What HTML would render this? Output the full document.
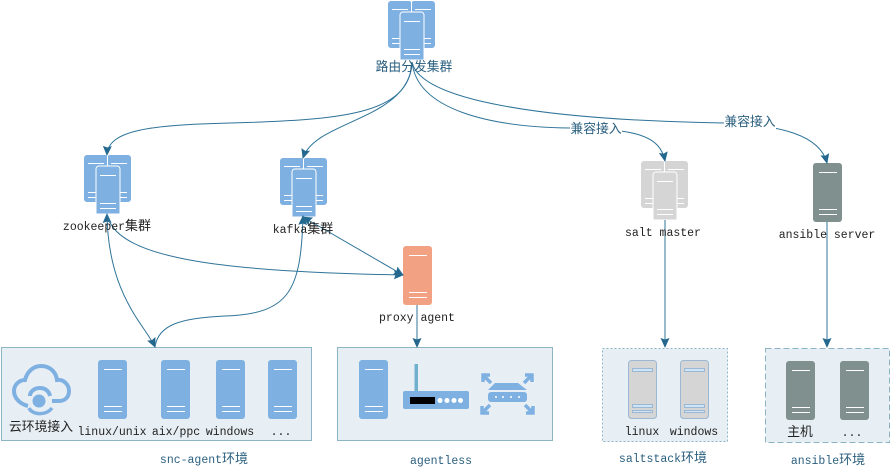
<!DOCTYPE html>
<html><head><meta charset="utf-8"><style>
html,body{margin:0;padding:0;background:#fff}
svg{display:block}
text{font-family:"Liberation Mono","Noto Sans CJK SC",monospace;font-size:11.5px;fill:#222;text-anchor:middle}
tspan{font-family:"Noto Sans CJK SC",sans-serif;font-size:13px}
.c{font-family:"Liberation Sans","Noto Sans CJK SC",sans-serif;font-size:12.800px}
.b{fill:#2a5f7f}
</style></head><body>
<svg width="891" height="470" viewBox="0 0 891 470" xmlns="http://www.w3.org/2000/svg">
<defs>
<marker id="a" markerUnits="userSpaceOnUse" markerWidth="12" markerHeight="12" refX="9" refY="4.500" orient="auto-start-reverse"><path d="M0 0L10 4.500L0 9L1.500 4.500Z" fill="#24688f"/></marker>
<g id="s"><rect x="0" y="0" width="29" height="59" rx="3"/><path d="M6 9.500H24M6 46.500H24M6 51.500H24" stroke="#fff" stroke-width="1" fill="none"/></g>
<g id="cl">
<rect x="0" y="0" width="24" height="47" rx="3"/><rect x="23" y="0" width="24" height="47" rx="3"/>
<path d="M4 8.500H20M27 8.500H43M4 37.500H12M4 42.500H12M35 37.500H43M35 42.500H43" stroke="#fff" stroke-width="1" fill="none"/>
<path d="M23.500 0V11" stroke="#fff" fill="none"/>
<path d="M12 59V14a3 3 0 0 1 3-3H33a3 3 0 0 1 3 3V59Z" stroke="#fff"/>
<path d="M16 20.500H32M16 48.500H32M16 53.500H32" stroke="#fff" stroke-width="1" fill="none"/>
</g>
</defs>

<!-- boxes -->
<rect x="1.500" y="347.500" width="310" height="93" fill="#e8eff4" stroke="#8db4c4"/>
<rect x="337.500" y="347.500" width="215" height="93" fill="#e8eff4" stroke="#8db4c4"/>
<rect x="602.500" y="348.500" width="125" height="93" fill="#e8eff4" stroke="#8db4c4" stroke-dasharray="2 2"/>
<rect x="765.500" y="348.500" width="124" height="94" fill="#e8eff4" stroke="#8db4c4" stroke-dasharray="6 3"/>

<!-- nodes -->
<use href="#cl" x="388" y="1" fill="#7fb0e2"/>
<use href="#cl" x="84" y="155" fill="#7fb0e2"/>
<use href="#cl" x="280" y="158" fill="#7fb0e2"/>
<use href="#cl" x="641" y="161" fill="#d5d5d5"/>
<use href="#s" x="813" y="163" fill="#7f908f"/>
<use href="#s" x="403" y="246" fill="#f2a283"/>

<use href="#s" x="98" y="360" fill="#7fb0e2"/>
<use href="#s" x="161" y="360" fill="#7fb0e2"/>
<use href="#s" x="216" y="360" fill="#7fb0e2"/>
<use href="#s" x="268" y="360" fill="#7fb0e2"/>
<use href="#s" x="359" y="360" fill="#7fb0e2"/>

<!-- salt hosts -->
<g fill="#d5d5d5" stroke="#9ab8d4">
<rect x="628.500" y="360.500" width="28" height="58" rx="3"/>
<rect x="680.500" y="360.500" width="28" height="58" rx="3"/>
</g>
<g fill="#cfe4f7" stroke="#9ab8d4">
<rect x="632.500" y="368.500" width="20" height="3"/><rect x="632.500" y="404.500" width="20" height="3"/><rect x="632.500" y="410.500" width="20" height="2"/>
<rect x="684.500" y="368.500" width="20" height="3"/><rect x="684.500" y="404.500" width="20" height="3"/><rect x="684.500" y="410.500" width="20" height="2"/>
</g>
<use href="#s" x="786" y="361" fill="#7f908f"/>
<use href="#s" x="840" y="361" fill="#7f908f"/>

<!-- cloud -->
<g fill="none" stroke="#7fb0e2" stroke-width="4">
<path d="M28 406C20 404 14 398 14 391C14 385 19 380 25 380C27 372 33 366 41 366C50 366 56 372 57 380C64 379 69 385 69 391C69 397 65 401 59 401H52"/>
<path d="M30 396C30 391 35 388 40 388C45 388 49 391 50 396"/>
<path d="M29 408C32 415 46 416 52 408" stroke-width="3.500"/>
</g>
<circle cx="39" cy="401" r="6.500" fill="#7fb0e2"/>

<!-- router -->
<rect x="414.500" y="364" width="3.500" height="29" fill="#6fb0cf"/>
<rect x="403" y="391" width="66" height="18" rx="2" fill="#7fb0e2"/>
<rect x="410" y="397" width="25" height="7" fill="#000"/>
<g fill="#fff"><circle cx="440" cy="400.500" r="2.500"/><circle cx="447" cy="400.500" r="2.500"/><circle cx="454" cy="400.500" r="2.500"/><circle cx="460.500" cy="400.500" r="2.500"/></g>

<!-- switch -->
<path d="M488 390L495 383H518L527 390Z" fill="#7fb0e2"/>
<rect x="488" y="392" width="39" height="10" rx="3" fill="#7fb0e2"/>
<g fill="#fff"><circle cx="496" cy="397" r="1"/><circle cx="503" cy="397" r="1"/><circle cx="511" cy="397" r="1"/><circle cx="519" cy="397" r="1"/></g>
<g stroke="#7fb0e2" stroke-width="3.500" fill="none">
<path d="M484 376L491 383M483 382V375H490"/>
<path d="M531 376L524 383M532 382V375H525"/>
<path d="M483 412L490 405M482 406V413H489"/>
<path d="M532 412L525 405M533 406V413H526"/>
</g>

<!-- connectors -->
<g fill="none" stroke="#2f7499" stroke-width="1">
<path d="M412 62C410 115 340 120 230 123C150 125 108 130 107 155" marker-end="url(#a)"/>
<path d="M412 62C410 120 315 120 303 158" marker-end="url(#a)"/>
<path d="M412 62C417 110 490 127 570 128C635 129 660 135 665 161" marker-end="url(#a)"/>
<path d="M412 62C420 100 540 120 725 123C780 125 820 135 827 163" marker-end="url(#a)"/>
<path d="M155 347C145 325 108 295 107 214" marker-start="url(#a)" marker-end="url(#a)"/>
<path d="M155 347C158 325 180 318 225 316C290 314 301 290 303 216" marker-end="url(#a)"/>
<path d="M107 214C115 260 230 272 403 275" marker-end="url(#a)"/>
<path d="M303 217L403 275" marker-start="url(#a)" marker-end="url(#a)"/>
<path d="M417 305V347" marker-end="url(#a)"/>
<path d="M665 220V347" marker-end="url(#a)"/>
<path d="M827 222V347" marker-end="url(#a)"/>
</g>

<!-- labels -->
<text x="414" y="71" class="c b">路由分发集群</text>
<rect x="570" y="122" width="52" height="14" fill="#fff"/>
<text x="596" y="133" class="c b">兼容接入</text>
<rect x="724" y="115" width="52" height="14" fill="#fff"/>
<text x="750" y="126" class="c b">兼容接入</text>
<text x="107" y="230">zookeeper<tspan>集群</tspan></text>
<text x="303" y="233">kafka<tspan>集群</tspan></text>
<text x="663" y="236">salt master</text>
<text x="827" y="238">ansible server</text>
<text x="417" y="321">proxy agent</text>
<text x="41" y="431" class="c">云环境接入</text>
<text x="112" y="435">linux/unix</text>
<text x="176" y="435">aix/ppc</text>
<text x="230" y="435">windows</text>
<text x="281" y="435">...</text>
<text x="642" y="435">linux</text>
<text x="694" y="435">windows</text>
<text x="800" y="436" class="c">主机</text>
<text x="852" y="436">...</text>
<text x="204" y="463" class="b">snc-agent<tspan>环境</tspan></text>
<text x="441" y="464" class="b">agentless</text>
<text x="663" y="462" class="b">saltstack<tspan>环境</tspan></text>
<text x="828" y="464" class="b">ansible<tspan>环境</tspan></text>
</svg>
</body></html>
